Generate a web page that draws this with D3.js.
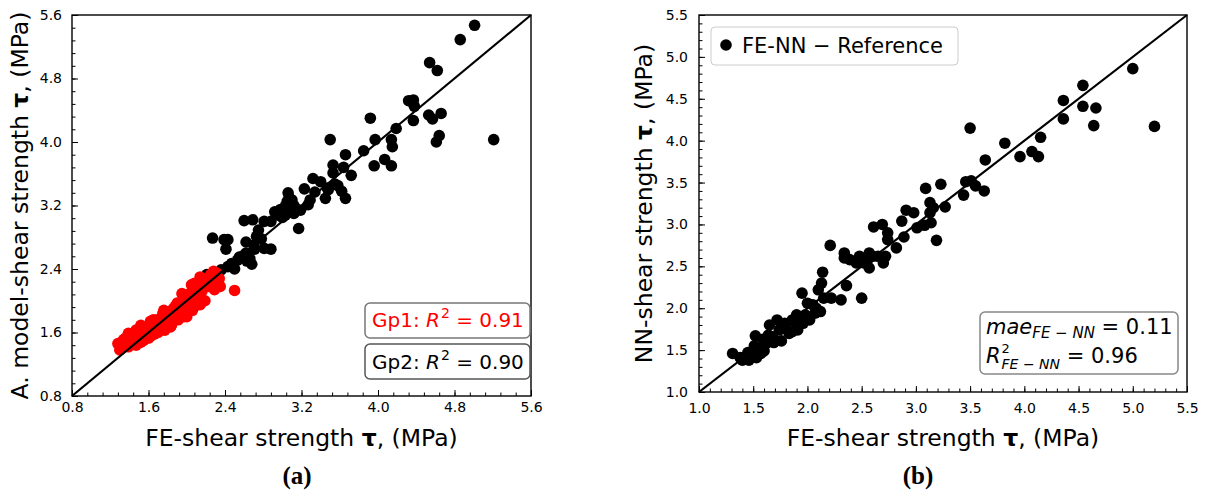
<!DOCTYPE html>
<html><head><meta charset="utf-8">
<script src="https://cdn.jsdelivr.net/npm/d3@7/dist/d3.min.js"></script>
<style>
body{margin:0;background:#fff}
text{font-family:"DejaVu Sans",sans-serif}
text.cap{font-family:"Liberation Serif","Times New Roman",serif;font-weight:bold}
</style>
</head><body>
<svg id="c" width="1207" height="490"></svg>
<script>
// ---------- DATA ----------
// Panel (a): Group 2 (black)
const gp2FE =    [5.01,4.86,4.54,4.62,4.32,4.37,4.38,3.92,4.53,4.57,4.66,4.37,4.19,5.21,3.97,4.14,4.15,4.61,4.64,3.50,3.85,3.66,4.07,4.14,3.96,3.53,3.64,3.72,3.53,3.32,3.40,3.55,3.47,3.23,3.62,3.34,3.66,3.45,3.29,3.27,3.06,3.10,3.03,3.14,2.92,2.95,3.03,3.17,2.88,2.81,2.69,2.60,2.75,2.73,2.62,2.81,2.88,2.71,2.27,2.39,2.43,2.41,2.62,2.66,2.58,2.53,2.47,2.68,2.43,2.36,2.29,2.21,3.08,3.12,3.00,3.07,2.98,3.19,2.78,2.70,2.55,2.50,2.63,3.12,3.05,3.48,3.58];
const gp2Model = [5.47,5.29,5.00,4.90,4.52,4.53,4.45,4.30,4.34,4.29,4.36,4.27,4.17,4.03,4.03,4.03,3.94,4.00,4.08,4.03,3.89,3.84,3.78,3.70,3.70,3.71,3.68,3.58,3.61,3.54,3.50,3.47,3.42,3.41,3.38,3.37,3.29,3.29,3.27,3.21,3.36,3.27,3.19,3.16,3.12,3.08,3.08,2.91,3.00,3.00,3.02,3.01,2.89,2.81,2.74,2.66,2.65,2.65,2.79,2.77,2.77,2.65,2.60,2.53,2.56,2.51,2.47,2.46,2.43,2.39,2.35,2.33,3.22,3.10,3.05,3.30,3.15,3.14,2.78,2.70,2.55,2.40,2.50,3.20,3.25,3.40,3.45];
// Panel (a): Group 1 (red)
const gp1FE =    [1.28,1.30,1.32,1.32,1.34,1.34,1.36,1.37,1.38,1.39,1.39,1.40,1.41,1.42,1.43,1.44,1.45,1.46,1.47,1.47,1.48,1.49,1.50,1.51,1.52,1.52,1.53,1.54,1.55,1.56,1.57,1.58,1.58,1.60,1.61,1.62,1.62,1.62,1.64,1.65,1.65,1.66,1.68,1.69,1.69,1.70,1.72,1.73,1.74,1.75,1.76,1.77,1.77,1.79,1.80,1.80,1.82,1.83,1.84,1.84,1.86,1.88,1.88,1.90,1.91,1.91,1.93,1.94,1.95,1.95,1.97,1.99,1.99,2.00,2.01,2.03,2.04,2.05,2.06,2.08,2.08,2.10,2.10,2.12,2.14,2.14,2.14,2.16,2.19,2.21,2.23,2.25,2.28,2.29,2.29,2.31,2.34,2.35,2.50];
const gp1Model = [1.46,1.38,1.48,1.40,1.51,1.42,1.53,1.45,1.46,1.59,1.42,1.50,1.48,1.55,1.57,1.46,1.51,1.60,1.63,1.44,1.59,1.52,1.47,1.55,1.69,1.48,1.62,1.61,1.50,1.66,1.54,1.65,1.59,1.53,1.70,1.74,1.65,1.55,1.61,1.69,1.76,1.58,1.72,1.76,1.65,1.60,1.68,1.67,1.78,1.84,1.88,1.74,1.63,1.70,1.86,1.80,1.74,1.67,1.78,1.69,1.90,1.93,1.80,1.97,1.82,1.76,1.95,1.87,2.09,1.86,1.80,1.88,1.82,1.80,2.01,2.09,1.92,2.20,1.88,2.22,1.93,2.09,1.99,2.05,2.30,2.18,1.95,2.12,2.00,2.28,2.18,2.33,2.37,2.26,2.14,2.35,2.28,2.18,2.13];
// Panel (b): FE vs NN
const nnFE =   [5.00,4.54,4.36,4.54,4.66,4.36,4.64,5.20,3.50,4.15,3.82,3.96,4.07,4.13,3.64,3.23,3.46,3.51,3.55,3.44,3.63,3.09,3.13,3.27,3.16,3.13,3.19,3.08,3.01,2.91,2.98,2.87,2.89,2.82,2.69,2.61,2.74,2.74,2.70,2.65,2.57,2.55,2.48,2.57,2.39,2.34,2.34,2.45,2.21,2.14,2.13,2.10,2.36,2.31,2.22,2.50,2.12,1.95,2.00,2.05,2.07,1.96,1.90,1.86,1.86,1.79,1.76,1.72,1.74,1.65,1.69,1.64,1.59,1.60,1.52,1.51,1.45,1.41,1.31,1.38,1.46,1.53,1.83,1.91,2.02,2.15,2.52,2.60,2.72,3.14,1.43,1.48,1.56,1.62,1.68,1.80,1.88,1.98,2.08,1.40,1.50,1.57];
const nnPred = [4.86,4.66,4.48,4.41,4.39,4.26,4.18,4.17,4.15,4.04,3.97,3.81,3.87,3.81,3.77,3.48,3.51,3.52,3.46,3.35,3.40,3.43,3.26,3.21,3.20,3.14,2.81,2.99,2.96,3.17,3.14,3.04,2.85,2.72,3.00,2.97,2.90,2.82,2.54,2.62,2.66,2.56,2.62,2.48,2.58,2.66,2.60,2.54,2.75,2.43,2.30,2.22,2.27,2.10,2.12,2.12,1.96,2.18,2.06,2.04,1.94,1.82,1.92,1.86,1.72,1.82,1.61,1.86,1.74,1.80,1.59,1.68,1.63,1.49,1.67,1.55,1.47,1.39,1.46,1.41,1.38,1.41,1.70,1.74,1.86,2.12,2.54,2.62,2.62,3.02,1.42,1.45,1.52,1.58,1.66,1.76,1.84,1.92,2.00,1.38,1.42,1.46];

const ticksA = [0.8,1.6,2.4,3.2,4.0,4.8,5.6];
const ticksB = [1.0,1.5,2.0,2.5,3.0,3.5,4.0,4.5,5.0,5.5];
const tickLabelsA = ["0.8","1.6","2.4","3.2","4.0","4.8","5.6"];
const tickLabelsB = ["1.0","1.5","2.0","2.5","3.0","3.5","4.0","4.5","5.0","5.5"];

// ---------- DRAW ----------
const svg = d3.select("#c");
const R = 5.8;

function drawPanel(o) {
  const x = d3.scaleLinear().domain(o.domain).range([o.x0, o.x1]);
  const y = d3.scaleLinear().domain(o.domain).range([o.y1, o.y0]);
  const g = svg.append("g");

  const minor = d3.range(0, o.nMinor + 1).map(i => +(o.domain[0] + i * o.minorStep).toFixed(3));
  const gxm = g.append("g").attr("transform", `translate(0,${o.y1})`)
    .call(d3.axisBottom(x).tickValues(minor).tickSizeInner(-3.5).tickSizeOuter(0).tickFormat(""));
  const gym = g.append("g").attr("transform", `translate(${o.x0},0)`)
    .call(d3.axisLeft(y).tickValues(minor).tickSizeInner(-3.5).tickSizeOuter(0).tickFormat(""));
  const fmt = (d) => o.labels[o.ticks.indexOf(d)];
  const gx = g.append("g").attr("transform", `translate(0,${o.y1})`)
    .call(d3.axisBottom(x).tickValues(o.ticks).tickSizeInner(-6).tickSizeOuter(0).tickPadding(o.xPad).tickFormat(fmt));
  const gy = g.append("g").attr("transform", `translate(${o.x0},0)`)
    .call(d3.axisLeft(y).tickValues(o.ticks).tickSizeInner(-6).tickSizeOuter(0).tickPadding(o.yPad).tickFormat(fmt));
  [gxm, gym, gx, gy].forEach(a => {
    a.select(".domain").remove();
    a.selectAll(".tick line").attr("stroke", "#000").attr("stroke-width", 1);
    a.selectAll("text").attr("font-size", 14).attr("fill", "#000");
  });

  o.series.forEach(s => {
    g.append("g").selectAll("circle").data(s.xs.map((v, i) => [v, s.ys[i]])).join("circle")
      .attr("cx", d => x(d[0])).attr("cy", d => y(d[1])).attr("r", R).attr("fill", s.color);
  });

  g.append("line").attr("x1", x(o.domain[0])).attr("y1", y(o.domain[0]))
    .attr("x2", x(o.domain[1])).attr("y2", y(o.domain[1]))
    .attr("stroke", "#000").attr("stroke-width", 2.2);

  g.append("rect").attr("x", o.x0).attr("y", o.y0).attr("width", o.x1 - o.x0).attr("height", o.y1 - o.y0)
    .attr("fill", "none").attr("stroke", "#000").attr("stroke-width", 1.4);

  const xt = g.append("text").attr("x", (o.x0 + o.x1) / 2).attr("y", o.xTitleY)
    .attr("text-anchor", "middle").attr("font-size", 23.5).attr("fill", "#000");
  xt.append("tspan").text("FE-shear strength ");
  xt.append("tspan").attr("font-weight", "bold").text("τ");
  xt.append("tspan").text(", (MPa)");

  const yt = g.append("text").attr("transform", `translate(${o.yTitleX},${(o.y0 + o.y1) / 2}) rotate(-90)`)
    .attr("text-anchor", "middle").attr("font-size", 23.5).attr("fill", "#000");
  yt.append("tspan").text(o.yTitle);
  yt.append("tspan").attr("font-weight", "bold").text("τ");
  yt.append("tspan").text(", (MPa)");

  svg.append("text").attr("class", "cap").attr("x", o.capX).attr("y", 484).attr("text-anchor", "middle")
    .attr("font-size", 25).attr("fill", "#000").text(o.caption);
  return {x, y, g};
}

drawPanel({
  domain: [0.8, 5.6], x0: 72, x1: 531, y0: 15, y1: 396,
  ticks: ticksA, labels: tickLabelsA, minorStep: 0.16, nMinor: 30,
  xPad: 6, yPad: 10, xTitleY: 446, yTitleX: 28,
  yTitle: "A. model-shear strength ", caption: "(a)", capX: 297,
  series: [{xs: gp2FE, ys: gp2Model, color: "#000"}, {xs: gp1FE, ys: gp1Model, color: "#ff0000"}]
});

drawPanel({
  domain: [1.0, 5.5], x0: 699, x1: 1187, y0: 15, y1: 392,
  ticks: ticksB, labels: tickLabelsB, minorStep: 0.1, nMinor: 45,
  xPad: 11, yPad: 11, xTitleY: 446, yTitleX: 652,
  yTitle: "NN-shear strength ", caption: "(b)", capX: 918,
  series: [{xs: nnFE, ys: nnPred, color: "#000"}]
});

// ---- Panel (a) annotation boxes ----
function rBox(x, y, w, h, stroke, sw) {
  svg.append("rect").attr("x", x).attr("y", y).attr("width", w).attr("height", h).attr("rx", 5)
    .attr("fill", "#fff").attr("fill-opacity", 0.9).attr("stroke", stroke).attr("stroke-width", sw);
}
function r2Label(x, y, pre, val, color) {
  const t = svg.append("text").attr("x", x).attr("y", y).attr("font-size", 20).attr("fill", color);
  t.append("tspan").text(pre);
  t.append("tspan").attr("font-style", "italic").text("R");
  t.append("tspan").attr("font-size", 14).attr("dy", -9).attr("dx", 1).text("2");
  t.append("tspan").attr("dy", 9).text(" = " + val);
}
rBox(365, 303, 165, 35, "#777", 1.5);
r2Label(372, 327, "Gp1: ", "0.91", "#ff0000");
rBox(365, 344, 165, 35, "#555", 1.5);
r2Label(372, 369, "Gp2: ", "0.90", "#000");

// ---- Panel (b) legend ----
svg.append("rect").attr("x", 711).attr("y", 27).attr("width", 247).attr("height", 38).attr("rx", 4)
  .attr("fill", "#fff").attr("fill-opacity", 0.8).attr("stroke", "#ccc").attr("stroke-width", 1);
svg.append("circle").attr("cx", 726).attr("cy", 45).attr("r", R).attr("fill", "#000");
svg.append("text").attr("x", 742).attr("y", 53).attr("font-size", 21).attr("fill", "#000").text("FE-NN − Reference");

// ---- Panel (b) stats box ----
svg.append("rect").attr("x", 980).attr("y", 312).attr("width", 198).attr("height", 62).attr("rx", 5)
  .attr("fill", "#fff").attr("fill-opacity", 0.9).attr("stroke", "#888").attr("stroke-width", 1.5);
const m1 = svg.append("text").attr("x", 986).attr("y", 334).attr("font-size", 21).attr("fill", "#000");
m1.append("tspan").attr("font-style", "italic").text("mae");
m1.append("tspan").attr("font-style", "italic").attr("font-size", 15).attr("dy", 4).text("FE − NN");
m1.append("tspan").attr("dy", -4).text(" = 0.11");
const m2 = svg.append("text").attr("x", 986).attr("y", 363).attr("font-size", 21).attr("fill", "#000");
m2.append("tspan").attr("font-style", "italic").text("R");
m2.append("tspan").attr("font-size", 13).attr("dy", -10).attr("dx", 1).text("2");
m2.append("tspan").attr("font-style", "italic").attr("font-size", 14).attr("dx", -8.3).attr("dy", 16).text("FE − NN");
m2.append("tspan").attr("dy", -6).text(" = 0.96");
</script>
</body></html>
